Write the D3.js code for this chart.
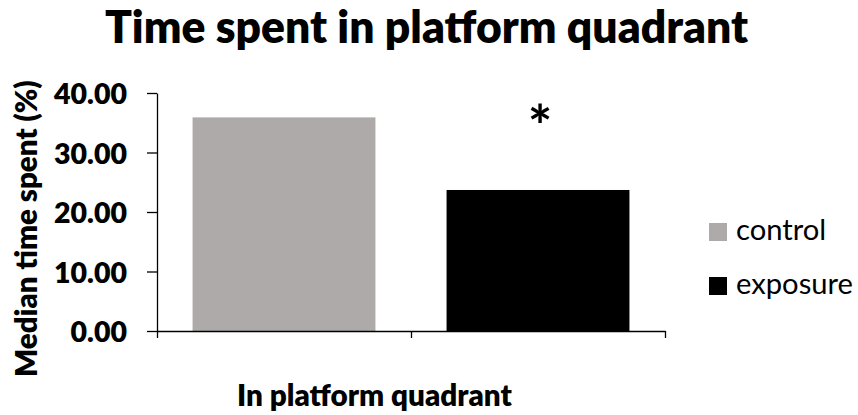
<!DOCTYPE html>
<html><head><meta charset="utf-8">
<script src="https://cdn.jsdelivr.net/npm/d3@7"></script>
<style>
body{margin:0;background:#fff}
svg{display:block}
text{font-family:Lato,"Open Sans",sans-serif;fill:#000}
</style>
</head><body>
<svg id="c" width="858" height="415"></svg>
<script>
// ---- data ----
const categories = ["control", "exposure"];
const values = [35.9, 23.7];
const colors = ["#AEAAAA", "#000000"];
const yTicks = [0, 10, 20, 30, 40];
const titleText = "Time spent in platform quadrant";
const yTitleText = "Median time spent (%)";
const xTitleText = "In platform quadrant";
const sigMark = "*";

// ---- layout ----
const svg = d3.select("#c");
const plot = {left: 157, right: 665, top: 93, bottom: 331};
const heavy = 800;

const x = d3.scaleBand().domain(categories)
  .range([plot.left, plot.right]).paddingInner(0.28).paddingOuter(0.14);
const xEdge = d3.scaleLinear().domain([0, categories.length]).range([plot.left, plot.right]);
const y = d3.scaleLinear().domain([0, 40]).range([plot.bottom, plot.top]);

function fitWidth(t, w) {
  const bb = t.node().getBBox();
  const fs = parseFloat(t.attr("font-size"));
  t.attr("font-size", fs * w / bb.width);
}

// bars
svg.append("g").selectAll("rect").data(values).join("rect")
  .attr("x", (d, i) => x(categories[i]))
  .attr("y", d => y(d))
  .attr("width", x.bandwidth())
  .attr("height", d => y(0) - y(d))
  .attr("fill", (d, i) => colors[i]);

// y axis
const ya = svg.append("g").attr("transform", `translate(${plot.left},0)`)
  .call(d3.axisLeft(y).tickValues(yTicks).tickSize(10).tickSizeOuter(0)
    .tickPadding(20).tickFormat(d3.format(".2f")));
ya.selectAll("path,line").attr("stroke", "#000").attr("stroke-width", 1.3);
ya.selectAll("text").attr("font-family", "Lato").attr("font-weight", heavy)
  .attr("font-size", 28).attr("dy", "0.38em");
{
  const top = ya.selectAll("text").filter(d => d === 40);
  const bb = top.node().getBBox();
  const fs = 28 * 74 / bb.width;
  ya.selectAll("text").attr("font-size", fs);
}

// x axis
const xa = svg.append("g").attr("transform", `translate(0,${plot.bottom})`)
  .call(d3.axisBottom(xEdge).tickValues(d3.range(categories.length + 1))
    .tickSize(7).tickSizeOuter(0).tickFormat(""));
xa.selectAll("path,line").attr("stroke", "#000").attr("stroke-width", 1.3);

// title
const title = svg.append("text").attr("x", 105).attr("y", 43)
  .attr("font-weight", heavy).attr("font-size", 40).text(titleText);
fitWidth(title, 644);

// x title
const xt = svg.append("text").attr("x", 237).attr("y", 406)
  .attr("font-weight", heavy).attr("font-size", 24).text(xTitleText);
fitWidth(xt, 276);

// y title
const yt = svg.append("text").attr("transform", "translate(37,377) rotate(-90)")
  .attr("font-weight", heavy).attr("font-size", 24).text(yTitleText);
fitWidth(yt, 297);

// significance mark
svg.append("text").attr("x", x("exposure") + x.bandwidth() / 2 + 2).attr("y", 147)
  .attr("text-anchor", "middle").attr("font-weight", "bold").attr("font-size", 58).text(sigMark);

// legend
const leg = svg.append("g");
const rowsY = [223, 277];
leg.selectAll("rect").data(categories).join("rect")
  .attr("x", 709).attr("y", (d, i) => rowsY[i]).attr("width", 18).attr("height", 18)
  .attr("fill", (d, i) => colors[i]);
const lt = leg.selectAll("text").data(categories).join("text")
  .attr("x", 736).attr("y", (d, i) => rowsY[i] + 17)
  .attr("font-size", 26).text(d => d);
{
  const bb = lt.filter(d => d === "exposure").node().getBBox();
  lt.attr("font-size", 26 * 117 / bb.width);
}
</script>
</body></html>
